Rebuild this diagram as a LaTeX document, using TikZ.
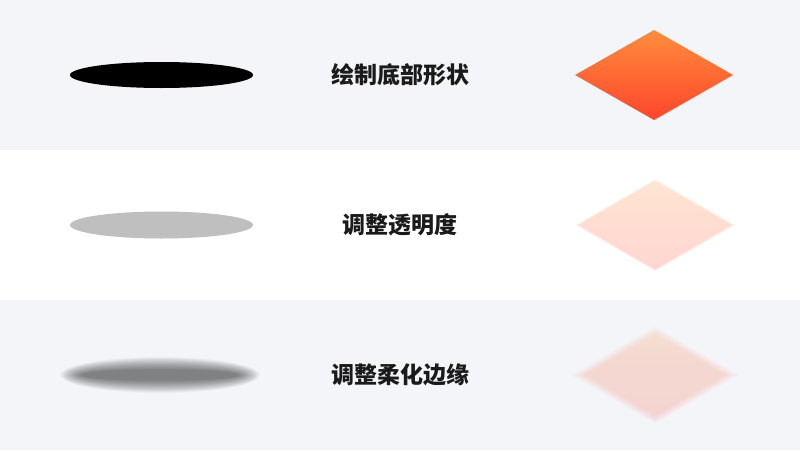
\documentclass[tikz,border=0pt]{standalone}
\usepackage{fontspec}
\newfontfamily\cjk{Noto Sans CJK SC}

\definecolor{bandgray}{HTML}{F4F5F9}
\definecolor{topOrange}{HTML}{FF8C3C}
\definecolor{midOrange}{HTML}{FF6A32}
\definecolor{botRed}{HTML}{FF462C}
\definecolor{labeltext}{HTML}{1A1A1A}

\tikzset{
    steplabel/.style={font=\cjk\bfseries\fontsize{23}{27}\selectfont, text=labeltext},
    rhombgrad/.style={top color=topOrange, middle color=midOrange, bottom color=botRed},
}

\begin{document}
\begin{tikzpicture}[x=1pt, y=-1pt]

    \useasboundingbox (0,0) rectangle (800,450);

    % three bands
    \fill[bandgray] (0,0) rectangle (800,150);
    \fill[white] (0,150) rectangle (800,300);
    \fill[bandgray] (0,300) rectangle (800,450);

    % row 1: plain shape
    \fill[black] (161.5,75) ellipse (91.5 and 13);
    \node[steplabel] (draw) at (400,75) {绘制底部形状};
    \shade[rhombgrad] (654,30) -- (733,75) -- (654,120) -- (575,75) -- cycle;

    % row 2: transparency
    \fill[black, opacity=0.25] (161.5,225) ellipse (91.5 and 13.5);
    \node[steplabel] (alpha) at (400,225) {调整透明度};
    \foreach \s in {1.02,1.0,0.98}
    \shade[rhombgrad, opacity=0.08, shift={(655,225)}, scale=\s]
        (0,-45) -- (78,0) -- (0,45) -- (-78,0) -- cycle;

    % row 3: soft edges
    \foreach \i in {0,...,23}
    \fill[black, opacity=0.022] (160,375) ellipse ({100-0.95*\i} and {18-0.55*\i});
    \node[steplabel] (blur) at (400,375) {调整柔化边缘};
    \foreach \s in {1.08,1.06,...,0.89}
    \shade[rhombgrad, opacity=0.02, shift={(655,375)}, scale=\s]
        (0,-45) -- (78,0) -- (0,45) -- (-78,0) -- cycle;

\end{tikzpicture}
\end{document}
